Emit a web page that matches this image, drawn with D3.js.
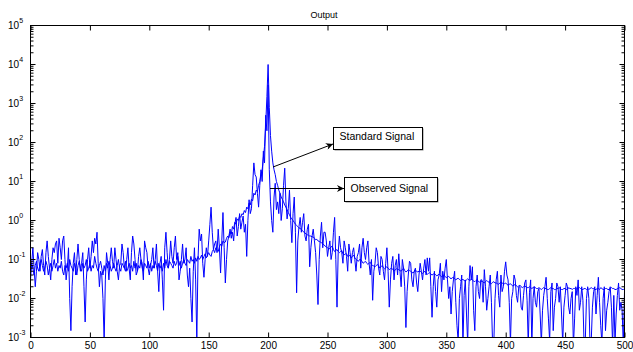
<!DOCTYPE html>
<html><head><meta charset="utf-8">
<script src="https://cdn.jsdelivr.net/npm/d3@7"></script>
<style>
body{margin:0;background:#fff;}
svg{display:block;font-family:"Liberation Sans",Arial,sans-serif;}
</style></head>
<body><svg id="c" width="633" height="352"></svg>
<script>
// sample index i is plotted at x = i (0..500)
const xTicks = [0,50,100,150,200,250,300,350,400,450,500];
const yTickExps = [-3,-2,-1,0,1,2,3,4,5];
const title = "Output";
const labelStandard = "Standard Signal";
const labelObserved = "Observed Signal";

// Standard signal (smoother), one value per x = 0..500
const standard = [
0.05,0.08,0.06,0.04,0.07,0.09,0.06,0.05,0.08,0.1,
0.07,0.05,0.06,0.09,0.07,0.04,0.06,0.08,0.05,0.07,
0.1,0.06,0.08,0.05,0.07,0.06,0.09,0.05,0.04,0.07,
0.06,0.08,0.05,0.1,0.07,0.06,0.05,0.08,0.06,0.04,
0.07,0.09,0.06,0.05,0.08,0.06,0.07,0.1,0.05,0.06,
0.08,0.05,0.07,0.06,0.12,0.08,0.06,0.05,0.07,0.09,
0.06,0.04,0.07,0.05,0.08,0.06,0.09,0.07,0.05,0.06,
0.08,0.06,0.05,0.07,0.1,0.06,0.05,0.08,0.07,0.06,
0.09,0.05,0.06,0.08,0.06,0.07,0.05,0.09,0.06,0.08,
0.05,0.07,0.06,0.1,0.06,0.05,0.08,0.07,0.06,0.09,
0.06,0.08,0.05,0.07,0.06,0.09,0.07,0.05,0.08,0.06,
0.07,0.05,0.08,0.06,0.1,0.07,0.06,0.09,0.08,0.07,
0.06,0.09,0.07,0.08,0.12,0.07,0.09,0.06,0.08,0.1,
0.08,0.07,0.1,0.09,0.08,0.12,0.09,0.1,0.08,0.11,
0.09,0.12,0.1,0.11,0.13,0.1,0.12,0.14,0.11,0.13,
0.15,0.13,0.12,0.16,0.18,0.15,0.2,0.17,0.16,0.21,
0.25,0.22,0.3,0.27,0.28,0.35,0.4,0.36,0.5,0.45,
0.7,0.6,0.9,0.8,1.1,1,1.3,1.2,1.5,1.4,
1.8,1.6,2.2,2,2.8,2.5,3.5,3.2,5,4.5,
6,5.5,8,10,15,20,40,80,300,1500,
10000,800,150,60,30,20,15,10,8,6,
5,4,3.5,3,2.5,2.2,1.9,1.6,1.4,1.2,
1.1,1,0.9,0.8,0.75,0.7,0.65,0.62,0.6,0.55,
0.5,0.48,0.45,0.43,0.42,0.4,0.4,0.38,0.38,0.35,
0.32,0.33,0.3,0.29,0.28,0.27,0.25,0.24,0.22,0.21,
0.2,0.19,0.19,0.21,0.22,0.18,0.16,0.17,0.18,0.16,
0.15,0.16,0.17,0.14,0.13,0.14,0.14,0.12,0.12,0.13,
0.11,0.12,0.13,0.11,0.1,0.095,0.09,0.1,0.1,0.09,
0.08,0.085,0.09,0.08,0.075,0.08,0.085,0.075,0.07,0.068,
0.065,0.07,0.075,0.068,0.06,0.065,0.07,0.062,0.058,0.062,
0.065,0.06,0.055,0.058,0.06,0.055,0.05,0.054,0.058,0.056,
0.055,0.052,0.05,0.055,0.06,0.052,0.048,0.05,0.055,0.052,
0.05,0.047,0.045,0.049,0.052,0.05,0.048,0.05,0.05,0.047,
0.044,0.047,0.05,0.045,0.042,0.044,0.046,0.042,0.04,0.042,
0.044,0.041,0.038,0.04,0.042,0.039,0.036,0.038,0.04,0.037,
0.034,0.036,0.037,0.034,0.032,0.034,0.035,0.032,0.03,0.032,
0.033,0.031,0.029,0.03,0.031,0.029,0.028,0.03,0.032,0.03,
0.029,0.031,0.03,0.028,0.027,0.029,0.03,0.028,0.026,0.027,
0.028,0.026,0.025,0.027,0.029,0.027,0.026,0.025,0.024,0.026,
0.027,0.025,0.025,0.024,0.023,0.025,0.026,0.025,0.024,0.024,
0.025,0.023,0.022,0.023,0.024,0.022,0.021,0.022,0.023,0.021,
0.02,0.021,0.022,0.02,0.019,0.02,0.021,0.02,0.019,0.019,
0.02,0.019,0.018,0.019,0.02,0.019,0.018,0.018,0.019,0.018,
0.017,0.018,0.019,0.018,0.018,0.017,0.017,0.018,0.019,0.018,
0.018,0.017,0.017,0.018,0.018,0.019,0.018,0.017,0.017,0.018,
0.018,0.017,0.017,0.019,0.018,0.018,0.017,0.018,0.018,0.017,
0.018,0.018,0.019,0.018,0.017,0.017,0.018,0.018,0.017,0.018,
0.017,0.018,0.019,0.018,0.018,0.017,0.017,0.018,0.018,0.017,
0.019,0.018,0.017,0.017,0.018,0.018,0.017,0.017,0.018,0.019,
0.018,0.018,0.017,0.017,0.018,0.018,0.019,0.018,0.017,0.017,
0.018
];

// Observed signal (noisy), one value per x = 0..500
const observed = [
0.03,0.08,0.2,0.06,0.02,0.05,0.15,0.1,0.05,0.12,
0.18,0.07,0.04,0.15,0.3,0.12,0.06,0.03,0.1,0.2,
0.15,0.25,0.3,0.08,0.35,0.2,0.1,0.3,0.4,0.1,
0.03,0.06,0.2,0.01,0.0015,0.02,0.08,0.15,0.04,0.1,
0.25,0.1,0.05,0.08,0.15,0.02,0.0025,0.03,0.1,0.2,
0.06,0.12,0.3,0.15,0.35,0.25,0.5,0.08,0.02,0.05,
0.04,0.01,0.0008,0.03,0.15,0.08,0.03,0.1,0.2,0.09,
0.06,0.2,0.1,0.05,0.03,0.07,0.08,0.25,0.15,0.06,
0.05,0.1,0.2,0.06,0.03,0.15,0.4,0.25,0.1,0.04,
0.05,0.12,0.2,0.1,0.08,0.03,0.3,0.2,0.15,0.06,
0.04,0.07,0.1,0.2,0.06,0.1,0.25,0.05,0.015,0.08,
0.12,0.03,0.005,0.2,0.5,0.15,0.06,0.1,0.3,0.12,
0.08,0.2,0.4,0.1,0.15,0.03,0.05,0.1,0.25,0.08,
0.1,0.2,0.04,0.02,0.06,0.01,0.0025,0.05,0.2,0.03,
0.0008,0.1,0.6,0.3,0.45,0.08,0.035,0.1,0.2,0.12,
0.3,0.8,2.2,0.5,0.18,0.25,0.3,0.15,0.6,0.2,
0.045,0.3,1.6,0.2,0.025,0.1,0.3,0.4,0.6,0.35,
0.5,0.3,0.8,1.2,0.4,0.7,1.5,0.6,0.9,1.3,
0.5,0.8,0.12,1,3.4,1.5,2,8,30,15,
13,5,2.2,8,20,10,60,30,500,200,
3000,20,3,1,0.5,4,9,1.9,3,1.5,
5,1,2,8,22,3,1.1,2,6,1,
0.27,1.5,4,0.5,0.014,0.3,0.7,1.2,0.5,0.9,
1.5,0.4,0.3,0.6,0.8,0.065,0.2,0.4,0.6,0.3,
0.15,0.04,0.007,0.1,0.4,0.9,0.2,0.5,0.5,0.3,
0.12,0.2,0.3,0.1,0.15,0.5,1.2,0.1,0.006,0.15,
0.4,0.2,0.15,0.08,0.3,0.2,0.12,0.05,0.25,0.15,
0.08,0.15,0.2,0.1,0.05,0.12,0.15,0.25,0.06,0.2,
0.35,0.15,0.1,0.2,0.3,0.08,0.04,0.1,0.009,0.05,
0.08,0.2,0.15,0.06,0.04,0.12,0.1,0.05,0.03,0.08,
0.2,0.05,0.006,0.03,0.08,0.12,0.03,0.07,0.1,0.04,
0.14,0.05,0.02,0.1,0.06,0.02,0.0018,0.015,0.04,0.09,
0.08,0.03,0.02,0.05,0.06,0.025,0.015,0.04,0.08,0.05,
0.03,0.06,0.1,0.04,0.11,0.05,0.11,0.02,0.0033,0.02,
0.05,0.015,0.006,0.03,0.04,0.08,0.015,0.05,0.03,0.06,
0.1,0.03,0.01,0.02,0.004,0.015,0.03,0.05,0.008,0.002,
0.0008,0.01,0.02,0.04,0.0006,0.012,0.03,0.004,0.0007,0.02,
0.07,0.03,0.065,0.005,0.0015,0.02,0.04,0.015,0.01,0.03,
0.03,0.008,0.055,0.02,0.005,0.01,0.02,0.04,0.008,0.0006,
0.0007,0.01,0.03,0.05,0.012,0.006,0.04,0.015,0.02,0.05,
0.087,0.04,0.03,0.008,0.0007,0.01,0.015,0.04,0.03,0.012,
0.008,0.02,0.02,0.006,0.005,0.012,0.025,0.03,0.009,0.0006,
0.014,0.03,0.0006,0.01,0.02,0.008,0.006,0.015,0.018,0.004,
0.0007,0.005,0.012,0.02,0.035,0.01,0.003,0.0008,0.015,0.025,
0.0015,0.006,0.01,0.025,0.02,0.008,0.02,0.004,0.0007,0.006,
0.012,0.025,0.02,0.006,0.004,0.01,0.015,0.0006,0.003,0.02,
0.012,0.03,0.005,0.008,0.02,0.009,0.0006,0.0008,0.01,0.02,
0.01,0.0006,0.0008,0.006,0.015,0.02,0.004,0.012,0.035,0.008,
0.002,0.0007,0.01,0.02,0.0015,0.005,0.008,0.015,0.02,0.006,
0.0006,0.012,0.0007,0.004,0.012,0.025,0.005,0.008,0.005,0.0006,
0.015
];

const svg = d3.select("#c");
const L = 30.5, R = 624.5, T = 25.5, B = 337.5;
const x = d3.scaleLinear().domain([0,500]).range([L,R]);
const y = d3.scaleLog().domain([1e-3,1e5]).range([B,T]);

const defs = svg.append("defs");
defs.append("clipPath").attr("id","clip")
  .append("rect").attr("x",L).attr("y",T).attr("width",R-L).attr("height",B-T);
defs.append("marker").attr("id","arr").attr("viewBox","0 0 10 10")
  .attr("refX",10).attr("refY",5).attr("markerWidth",9).attr("markerHeight",7)
  .attr("markerUnits","userSpaceOnUse").attr("orient","auto")
  .append("path").attr("d","M0,0 L10,5 L0,10 L3,5 Z").attr("fill","#000");

const line = d3.line().x((d,i)=>x(i)).y(d=>y(d));
const g = svg.append("g").attr("clip-path","url(#clip)");
g.append("path").datum(standard).attr("d",line).attr("fill","none").attr("stroke","#0000ff").attr("stroke-width",1);
g.append("path").datum(observed).attr("d",line).attr("fill","none").attr("stroke","#0000ff").attr("stroke-width",1);

// axes box
svg.append("rect").attr("x",L).attr("y",T).attr("width",R-L).attr("height",B-T)
  .attr("fill","none").attr("stroke","#000").attr("stroke-width",1);

// x ticks (bottom + top, inward)
const xb = d3.axisBottom(x).tickValues(xTicks).tickSizeInner(-5).tickSizeOuter(0).tickPadding(4.5);
const gxb = svg.append("g").attr("transform",`translate(0,${B})`).call(xb);
gxb.select(".domain").remove();
gxb.selectAll("text").attr("font-size",10).attr("font-family","Liberation Sans, Arial, sans-serif").attr("fill","#000");
const xt = d3.axisTop(x).tickValues(xTicks).tickSizeInner(-5).tickSizeOuter(0).tickFormat("");
const gxt = svg.append("g").attr("transform",`translate(0,${T})`).call(xt);
gxt.select(".domain").remove();

// y ticks (left + right, inward, with minors)
const minorVals = [];
for (let e=-3; e<5; e++) for (let m=2; m<10; m++) minorVals.push(m*Math.pow(10,e));
const majorVals = yTickExps.map(e=>Math.pow(10,e));
[[L,1],[R,-1]].forEach(([px,dir])=>{
  const ga = svg.append("g");
  ga.selectAll("line.maj").data(majorVals).join("line").attr("class","maj")
    .attr("x1",px).attr("x2",px+dir*5).attr("y1",d=>y(d)).attr("y2",d=>y(d)).attr("stroke","#000");
  ga.selectAll("line.min").data(minorVals).join("line").attr("class","min")
    .attr("x1",px).attr("x2",px+dir*3).attr("y1",d=>y(d)).attr("y2",d=>y(d)).attr("stroke","#000");
});
const yl = svg.append("g");
yTickExps.forEach(e=>{
  const t = yl.append("text").attr("x",8).attr("y",y(Math.pow(10,e))+3.5)
    .attr("font-size",10).attr("fill","#000");
  t.append("tspan").text("10");
  t.append("tspan").attr("font-size",7).attr("dy",-6).text(e<0? "-"+(-e) : String(e));
});

// title
svg.append("text").attr("x",324).attr("y",18).attr("text-anchor","middle")
  .attr("font-size",9).attr("fill","#000").text(title);

// annotations
function box(x0,y0,w,h,label,tx,ty){
  svg.append("rect").attr("x",x0+1).attr("y",y0+1).attr("width",w).attr("height",h).attr("fill","#888");
  svg.append("rect").attr("x",x0).attr("y",y0).attr("width",w).attr("height",h)
    .attr("fill","#fff").attr("stroke","#000").attr("stroke-width",1);
  svg.append("text").attr("x",tx).attr("y",ty).attr("font-size",10.5).attr("fill","#000").text(label);
}
svg.append("line").attr("x1",273).attr("y1",167).attr("x2",333).attr("y2",144)
  .attr("stroke","#000").attr("stroke-width",1).attr("marker-end","url(#arr)");
svg.append("line").attr("x1",270).attr("y1",188.5).attr("x2",344).attr("y2",188.5)
  .attr("stroke","#000").attr("stroke-width",1).attr("marker-end","url(#arr)");
box(333.5,127.5,89,22,labelStandard,339.5,139.5);
box(344.5,177.5,93,24,labelObserved,350.5,192);
</script></body></html>
